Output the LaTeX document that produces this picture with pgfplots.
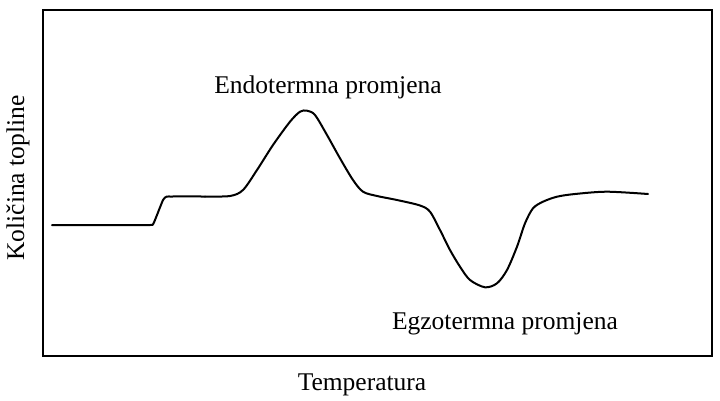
\documentclass[border=0pt]{standalone}
\usepackage{pgfplots}
\pgfplotsset{compat=1.18}
\usepackage{fontspec}
\setmainfont{Liberation Serif}
\begin{document}
\begin{tikzpicture}
\useasboundingbox (-43pt,-44pt) rectangle (677pt,356pt);
\begin{axis}[
  scale only axis, width=669pt, height=346pt,
  xmin=43, xmax=712, ymin=44, ymax=390,
  xtick=\empty, ytick=\empty,
  axis line style={line width=1.6pt},
  clip=false,
]
\addplot[black, line width=2pt, smooth, tension=0.3, line cap=round] coordinates {
(52,175) (120,175) (150,175) (153.5,176.5) (163,200) (166.5,203.3) (172,203.5) (205,203.5)
};
\addplot[black, line width=2pt, smooth, tension=0.5, line cap=round] coordinates {
(205,203.5) (230,204) (243,210) (257,230) (273,255) (290,278.3) (300,288.3) (307,289.3) (315,285) (327,265) (340,241.7) (353,220) (363,208.3) (377,204) (397,200) (420,194.5) (430,188.3) (440,170) (450,150) (460,133.3) (470,120) (485,112.7) (497,116.7) (507,130) (517,153.3) (525,176.7) (533,191.7) (543,198.3) (557,203.3) (575,206) (607,208.3) (648,206)
};
\node[font=\fontsize{25.5}{30}\selectfont] at (axis cs:328,313) {Endotermna promjena};
\node[font=\fontsize{25.5}{30}\selectfont] at (axis cs:505,76) {Egzotermna promjena};
\node[font=\fontsize{25.5}{30}\selectfont] at (axis cs:362,15) {Temperatura};
\node[font=\fontsize{25.5}{30}\selectfont, rotate=90] at (axis cs:18,222) {Količina topline};
\end{axis}
\end{tikzpicture}
\end{document}
